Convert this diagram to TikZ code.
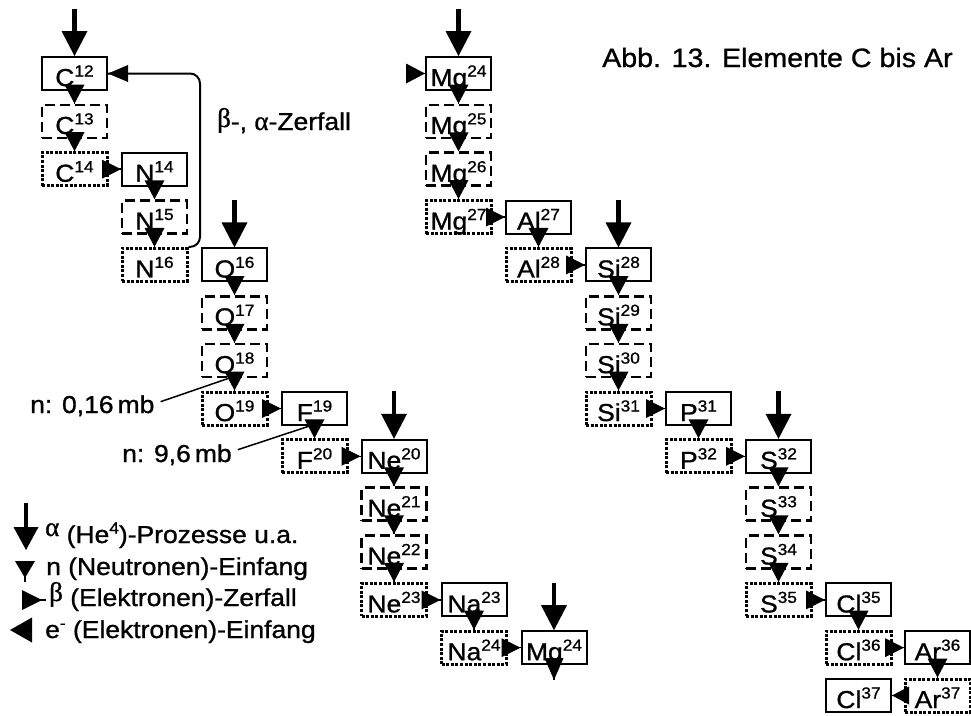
\documentclass[tikz,border=0pt]{standalone}
\usepackage{fontspec}
\setmainfont[FakeStretch=1.08,FakeBold=1]{Liberation Sans}
\newfontfamily\grk[FakeBold=1]{Liberation Serif}
\usetikzlibrary{calc}
\newcommand\isup[1]{\raisebox{9.5pt}{\fontsize{16pt}{16pt}\selectfont #1}}
\newcommand\gk[1]{{\grk\fontsize{27pt}{27pt}\selectfont #1}}
% filled arrow heads: #1 tip point, #2 width, #3 length
\newcommand\tipdown[3]{\fill (#1) -- +({-(#2)/2},{-(#3)}) -- +({(#2)/2},{-(#3)}) -- cycle;}
\newcommand\tipright[3]{\fill (#1) -- +({-(#3)},{-(#2)/2}) -- +({-(#3)},{(#2)/2}) -- cycle;}
\newcommand\tipleft[3]{\fill (#1) -- +({#3},{-(#2)/2}) -- +({#3},{(#2)/2}) -- cycle;}
\begin{document}
\begin{tikzpicture}[x=1pt,y=-1pt,
  txt/.style={font=\fontsize{24.5pt}{29pt}\selectfont, inner sep=0pt},
  iso/.style={txt, minimum width=65pt, minimum height=33pt, text height=29pt, text depth=4pt, inner ysep=0pt, inner xsep=0pt},
  stable/.style={iso, draw, line width=2pt},
  dashbox/.style={iso, draw, line width=2.5pt, dash pattern=on 10pt off 5pt},
  dotbox/.style={iso, draw, line width=3pt, dash pattern=on 3pt off 1.6pt},
  conn/.style={line width=1.5pt},
  alphaline/.style={line width=4.5pt},
]
\useasboundingbox (0,0) rectangle (971,715);

% ---- left chain
\node[stable]  (c12) at (74.5,73.5)  {C\isup{12}};
\node[dashbox] (c13) at (74.5,121.4) {C\isup{13}};
\node[dotbox]  (c14) at (74.5,169.2) {C\isup{14}};
\node[stable]  (n14) at (154.5,169.2) {N\isup{14}};
\node[dashbox] (n15) at (154.5,217)   {N\isup{15}};
\node[dotbox]  (n16) at (154.5,264.9) {N\isup{16}};
\node[stable]  (o16) at (234.5,264.9) {O\isup{16}};
\node[dashbox] (o17) at (234.5,312.8) {O\isup{17}};
\node[dashbox] (o18) at (234.5,360.6) {O\isup{18}};
\node[dotbox]  (o19) at (234.5,408.5) {O\isup{19}};
\node[stable]  (f19) at (314.5,408.5) {F\isup{19}};
\node[dotbox]  (f20) at (314.5,456.3) {F\isup{20}};
\node[stable]  (ne20) at (394,456.3) {Ne\isup{20}};
\node[dashbox] (ne21) at (394,504.2) {Ne\isup{21}};
\node[dashbox] (ne22) at (394,552)   {Ne\isup{22}};
\node[dotbox]  (ne23) at (394,599.9) {Ne\isup{23}};
\node[stable]  (na23) at (474,599.9) {Na\isup{23}};
\node[dotbox]  (na24) at (474,647.7) {Na\isup{24}};
\node[stable]  (mgb)  at (554,647.7) {Mg\isup{24}};

% ---- right chain
\node[stable]  (mg24) at (458.5,73.5)  {Mg\isup{24}};
\node[dashbox] (mg25) at (458.5,121.4) {Mg\isup{25}};
\node[dashbox] (mg26) at (458.5,169.2) {Mg\isup{26}};
\node[dotbox]  (mg27) at (458.5,217)   {Mg\isup{27}};
\node[stable]  (al27) at (538.5,217)   {Al\isup{27}};
\node[dotbox]  (al28) at (538.5,264.9) {Al\isup{28}};
\node[stable]  (si28) at (618.5,264.9) {Si\isup{28}};
\node[dashbox] (si29) at (618.5,312.8) {Si\isup{29}};
\node[dashbox] (si30) at (618.5,360.6) {Si\isup{30}};
\node[dotbox]  (si31) at (618.5,408.5) {Si\isup{31}};
\node[stable]  (p31)  at (698.5,408.5) {P\isup{31}};
\node[dotbox]  (p32)  at (698.5,456.3) {P\isup{32}};
\node[stable]  (s32)  at (778.5,456.3) {S\isup{32}};
\node[dashbox] (s33)  at (778.5,504.2) {S\isup{33}};
\node[dashbox] (s34)  at (778.5,552)   {S\isup{34}};
\node[dotbox]  (s35)  at (778.5,599.9) {S\isup{35}};
\node[stable]  (cl35) at (858.5,599.9) {Cl\isup{35}};
\node[dotbox]  (cl36) at (858.5,647.7) {Cl\isup{36}};
\node[stable]  (ar36) at (937.5,647.7) {Ar\isup{36}};
\node[dotbox]  (ar37) at (937.5,695.5) {Ar\isup{37}};
\node[stable]  (cl37) at (858.5,695.5) {Cl\isup{37}};

% ---- free ends
\coordinate (ac12) at (74.5,8.5);
\coordinate (amg24) at (458.5,8.5);
\coordinate (ao16) at (234.5,199.9);
\coordinate (asi28) at (618.5,199.9);
\coordinate (ane20) at (394,391.3);
\coordinate (as32) at (778.5,391.3);
\coordinate (amgb) at (554,582.7);
\coordinate (mgin) at (408,73.5);
\coordinate (mgout) at (554,680);

% ---- alpha arrows
\foreach \a/\b in {ac12/c12, amg24/mg24, ao16/o16, asi28/si28, ane20/ne20, as32/s32, amgb/mgb}{
  \draw[alphaline] (\a) -- ($(\b.north)+(0,-12)$);
  \tipdown{\b.north}{26}{25}
}

% ---- neutron capture
\foreach \a/\b in {c12/c13, c13/c14, n14/n15, n15/n16, o16/o17, o17/o18, o18/o19, f19/f20,
  ne20/ne21, ne21/ne22, ne22/ne23, na23/na24, mg24/mg25, mg25/mg26, mg26/mg27, al27/al28,
  si28/si29, si29/si30, si30/si31, p31/p32, s32/s33, s33/s34, s34/s35, cl35/cl36, ar36/ar37}{
  \draw[conn] (\a.south) -- (\b.north);
  \tipdown{\b.north}{20}{19}
}
\draw[conn] (mgb.south) -- (mgout);
\tipdown{mgout}{19}{22}

% ---- beta decay
\foreach \a/\b in {c14/n14, o19/f19, f20/ne20, ne23/na23, na24/mgb, mg27/al27, al28/si28,
  si31/p31, p32/s32, s35/cl35, cl36/ar36}{
  \draw[conn] (\a.east) -- (\b.west);
  \tipright{\b.west}{19}{19}
}
\draw[conn] (mgin) -- (mg24.west);
\tipright{mg24.west}{20}{19}

% ---- electron capture
\draw[conn] (ar37.west) -- (cl37.east);
\tipleft{cl37.east}{18}{17}

% ---- loop
\draw[line width=2pt, rounded corners=10pt]
  (n16.north east) -| ($(c12.east)+(92,0)$) -- (c12.east);
\tipleft{c12.east}{17}{20}
\node[txt, anchor=base west] (zerf) at (217,130) {\raisebox{3pt}{\gk{β}}-, \gk{α}-Zerfall};

% ---- cross-section labels
\node[txt, anchor=base west] (lbl1) at (30,413) {n: 0,16\,mb};
\node[txt, anchor=base west] (lbl2) at (122,462) {n: 9,6\,mb};
\draw[conn] ($(lbl1.east)+(6,-4)$) -- ($(o18.south)+(-6,0)$);
\draw[conn] ($(lbl2.east)+(6,-5)$) -- ($(f19.south)+(-5,0)$);

% ---- title
\node[txt, font=\fontsize{26.5pt}{31pt}\selectfont, anchor=base west] (title) at (602,67) {Abb. 13. Elemente C bis Ar};

% ---- legend
\node[txt, anchor=base west] (lg1) at (45,543) {\raisebox{7pt}{\gk{α}} (He\isup{4})-Prozesse u.a.};
\node[txt, anchor=base west] (lg2) at (46,575) {n (Neutronen)-Einfang};
\node[txt, anchor=base west] (lg3) at (49,606) {\raisebox{5pt}{\gk{β}} (Elektronen)-Zerfall};
\node[txt, anchor=base west] (lg4) at (45,638) {e\isup{-} (Elektronen)-Einfang};
\coordinate (la1) at (26,503); \coordinate (la2) at (26,550);
\coordinate (ln1) at (25,562); \coordinate (ln2) at (25,582);
\coordinate (lb1) at (24,600); \coordinate (lb2) at (46,600);
\coordinate (le1) at (32,630); \coordinate (le2) at (10,630);
\draw[alphaline] (la1) -- ($(la2)+(0,-10)$);
\tipdown{la2}{25}{23}
\draw[conn] (ln1) -- (ln2);
\tipdown{$(ln2)+(0,-4)$}{20}{17}
\draw[conn] (lb1) -- (lb2);
\tipright{$(lb2)+(-4,0)$}{20}{20}
\tipleft{le2}{25}{22}
\end{tikzpicture}
\end{document}
